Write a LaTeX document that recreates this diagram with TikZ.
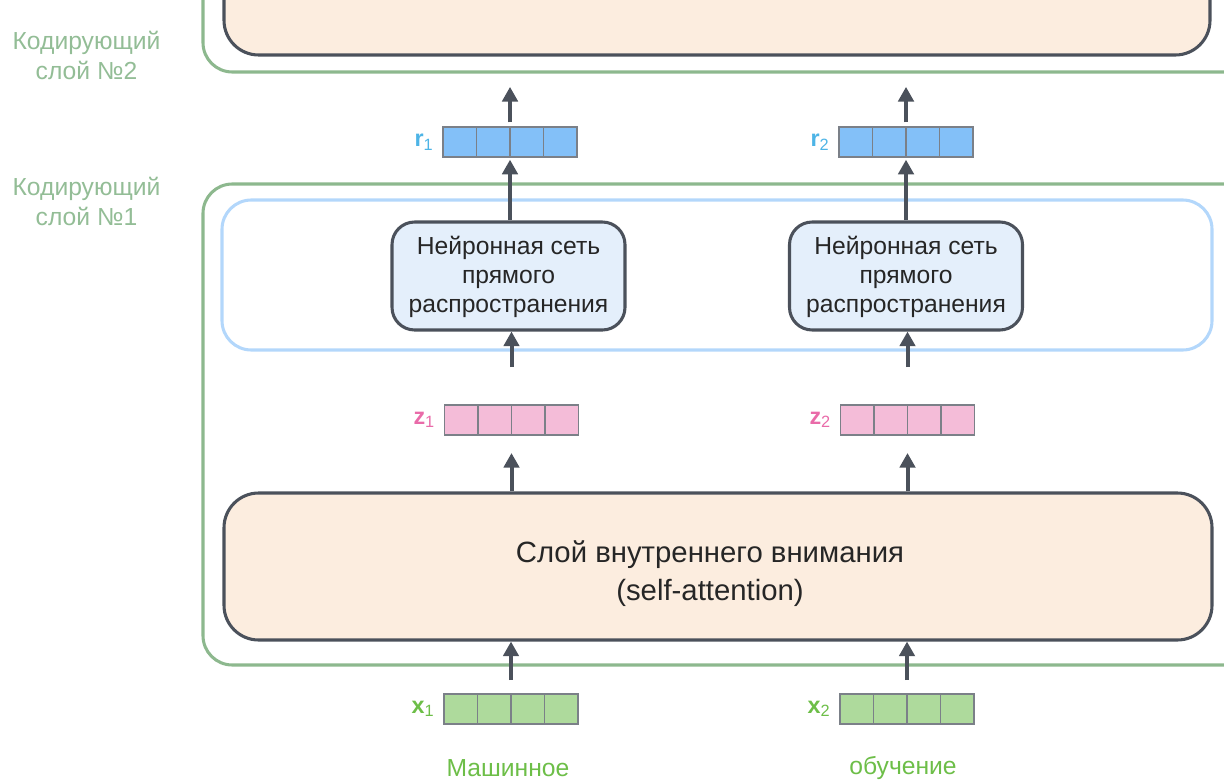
\documentclass[tikz,border=0pt]{standalone}
\usepackage{fontspec}
\setmainfont{Liberation Sans}
\usetikzlibrary{arrows.meta,fit,calc}

\definecolor{layergreen}{HTML}{8DB88E}
\definecolor{labelgreen}{HTML}{93BD96}
\definecolor{ffnblue}{HTML}{B3D7FB}
\definecolor{ffnfill}{HTML}{E4EFFB}
\definecolor{safill}{HTML}{FCEDDF}
\definecolor{edge}{HTML}{4B515B}
\definecolor{rfill}{HTML}{83C0F8}
\definecolor{rtext}{HTML}{4DB4E6}
\definecolor{zfill}{HTML}{F4BCD8}
\definecolor{ztext}{HTML}{E96BA9}
\definecolor{xfill}{HTML}{AEDA9C}
\definecolor{xtext}{HTML}{6DBE48}
\definecolor{cellline}{HTML}{7B8088}

\tikzset{
  % one cell of a word vector
  cell/.style={draw=cellline, line width=1.1pt, minimum width=25.1pt,
    minimum height=22.5pt, inner sep=0pt, outer sep=0pt},
  vecbox/.style={inner sep=0pt, outer sep=0pt},
  veclabel/.style={font=\fontsize{17.5}{19}\selectfont\bfseries, anchor=east,
    inner sep=0pt, xshift=-7pt},
  layerbox/.style={draw=layergreen, line width=2.3pt, rounded corners=22pt,
    inner sep=0pt},
  ffnbox/.style={draw=edge, fill=ffnfill, line width=2.3pt, rounded corners=17pt,
    inner sep=0pt, align=center, text=black!85, minimum width=174.75pt,
    minimum height=81pt, text depth=2.5pt, font=\fontsize{18.5}{21.75}\selectfont},
  sabox/.style={draw=edge, fill=safill, line width=2.3pt, rounded corners=26pt,
    inner sep=0pt},
  satext/.style={align=center, text=black!85, inner sep=0pt,
    font=\fontsize{22}{28.5}\selectfont},
  sidelabel/.style={text=labelgreen, align=center,
    font=\fontsize{18.5}{22.5}\selectfont},
  wordlabel/.style={text=xtext, font=\fontsize{18.5}{22}\selectfont},
  flow/.style={draw=edge, line width=3pt, -{Triangle[width=11.5pt,length=11pt]}},
}

% \wordvec{name}{centre x}{centre y}{fill colour}
\newcommand{\wordvec}[4]{%
  \foreach \i in {1,...,4}
    \node[cell, fill=#4] (#1-\i) at ({#2+(\i-2.5)*33.5},#3) {};
  \node[vecbox, fit=(#1-1)(#1-4)] (#1) {};
}

\begin{document}
\begin{tikzpicture}[x=0.75pt,y=-0.75pt]
\path[use as bounding box] (0,0) rectangle (1224,781);
\clip (0,0) rectangle (1224,781);

% encoder layer 2 (only its lower part is visible)
\node[layerbox, fit={(203,-80) (1260,72)}] (l2) {};
\node[sabox, fit={(224,-80) (1210,55)}] (l2sa) {};

% encoder layer 1
\node[layerbox, fit={(203,184) (1260,665)}] (l1) {};
\node[draw=ffnblue, line width=2.3pt, rounded corners=22pt, inner sep=0pt,
      fit={(222,200) (1212,350)}] (ffnrow) {};

% side labels
\node[sidelabel] (lab2) at (86.5,55) {Кодирующий\\слой №2};
\node[sidelabel] (lab1) at (86.5,201) {Кодирующий\\слой №1};

% feed-forward networks
\node[ffnbox] (ffn1) at (508.5,276) {Нейронная сеть\\прямого\\распространения};
\node[ffnbox] (ffn2) at (906,276) {Нейронная сеть\\прямого\\распространения};

% self-attention layer
\node[sabox, fit={(224,493) (1212,640)}] (sa) {};
\node[satext] (sat) at (710,574) {Слой внутреннего внимания\\(self-attention)};

% word vectors
\wordvec{r1}{510}{142}{rfill}
\wordvec{r2}{906}{142}{rfill}
\wordvec{z1}{511.5}{420}{zfill}
\wordvec{z2}{907.5}{420}{zfill}
\wordvec{x1}{511}{709}{xfill}
\wordvec{x2}{907}{709}{xfill}

\node[veclabel, text=rtext] (r1l) at (r1.west) {r\textsubscript{\mdseries 1}};
\node[veclabel, text=rtext] (r2l) at (r2.west) {r\textsubscript{\mdseries 2}};
\node[veclabel, text=ztext] (z1l) at (z1.west) {z\textsubscript{\mdseries 1}};
\node[veclabel, text=ztext] (z2l) at (z2.west) {z\textsubscript{\mdseries 2}};
\node[veclabel, text=xtext] (x1l) at (x1.west) {x\textsubscript{\mdseries 1}};
\node[veclabel, text=xtext] (x2l) at (x2.west) {x\textsubscript{\mdseries 2}};

% input words
\node[wordlabel] (w1) at (508,768) {Машинное};
\node[wordlabel] (w2) at (903,768) {обучение};

% data flow
\foreach \c/\f in {1/ffn1, 2/ffn2} {
  \draw[flow, shorten <=10.5pt] (x\c.north) -- (x\c.north |- sa.south);
  \draw[flow, shorten >=13.5pt] (z\c.south |- sa.north) -- (z\c.south);
  \draw[flow, shorten <=28.5pt] (z\c.north) -- (z\c.north |- \f.south);
  \draw[flow, shorten >=2pt] (r\c.south |- \f.north) -- (r\c.south);
  \draw[flow, shorten <=3.5pt, shorten >=10pt] (r\c.north) -- (r\c.north |- l2.south);
}
\end{tikzpicture}
\end{document}
